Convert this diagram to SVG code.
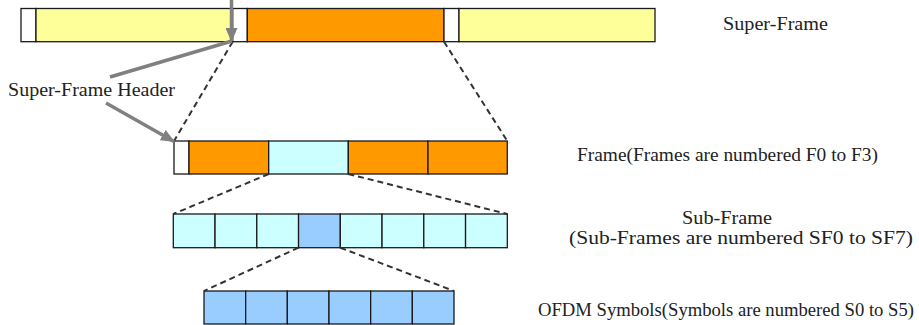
<svg xmlns="http://www.w3.org/2000/svg" width="919" height="325" viewBox="0 0 919 325">
<style>
.c{stroke:#1a1a1a;stroke-width:1.3}
.w{fill:#ffffff}.y{fill:#ffff99}.o{fill:#ff9900}.cy{fill:#ccffff}.b{fill:#99ccff}
.d{stroke:#333333;stroke-width:2;stroke-dasharray:6,4;fill:none}
.g{stroke:#808080;stroke-width:3.5;fill:none}
.t{font-family:'Liberation Serif','Times New Roman','DejaVu Serif',serif;font-size:18px;fill:#222222}
</style>
<defs>
<marker id="ah" markerUnits="userSpaceOnUse" markerWidth="14" markerHeight="12" viewBox="0 0 14 12" refX="13" refY="6" orient="auto">
<path d="M0,0 L14,6 L0,12 z" fill="#808080"/>
</marker>
</defs>
<g id="superframe">
<rect class="c w" x="21" y="8.5" width="15" height="33.2"/>
<rect class="c y" x="36" y="8.5" width="196.7" height="33.2"/>
<rect class="c w" x="232.7" y="8.5" width="14.6" height="33.2"/>
<rect class="c o" x="247.3" y="8.5" width="196.7" height="33.2"/>
<rect class="c w" x="444" y="8.5" width="15" height="33.2"/>
<rect class="c y" x="459" y="8.5" width="196" height="33.2"/>
</g>
<g id="frame">
<rect class="c w" x="174" y="141" width="15" height="33"/>
<rect class="c o" x="189" y="141" width="79.7" height="33"/>
<rect class="c cy" x="268.7" y="141" width="79.6" height="33"/>
<rect class="c o" x="348.3" y="141" width="79.7" height="33"/>
<rect class="c o" x="428" y="141" width="79.3" height="33"/>
</g>
<g id="subframe">
<rect class="c cy" x="173.3" y="214" width="41.75" height="33.7"/>
<rect class="c cy" x="215.05" y="214" width="41.75" height="33.7"/>
<rect class="c cy" x="256.8" y="214" width="41.75" height="33.7"/>
<rect class="c b" x="298.55" y="214" width="41.75" height="33.7"/>
<rect class="c cy" x="340.3" y="214" width="41.75" height="33.7"/>
<rect class="c cy" x="382.05" y="214" width="41.75" height="33.7"/>
<rect class="c cy" x="423.8" y="214" width="41.75" height="33.7"/>
<rect class="c cy" x="465.55" y="214" width="41.75" height="33.7"/>
</g>
<g id="ofdm">
<rect class="c b" x="204" y="291" width="41.67" height="33"/>
<rect class="c b" x="245.67" y="291" width="41.67" height="33"/>
<rect class="c b" x="287.33" y="291" width="41.67" height="33"/>
<rect class="c b" x="329" y="291" width="41.67" height="33"/>
<rect class="c b" x="370.67" y="291" width="41.67" height="33"/>
<rect class="c b" x="412.33" y="291" width="41.67" height="33"/>
</g>
<g id="connectors">
<line class="d" x1="232.7" y1="41.7" x2="174" y2="141"/>
<line class="d" x1="444" y1="41.7" x2="507.3" y2="141"/>
<line class="d" x1="268.7" y1="174" x2="173.3" y2="214"/>
<line class="d" x1="348.3" y1="174" x2="507.3" y2="214"/>
<line class="d" x1="298.5" y1="247.7" x2="204" y2="291"/>
<line class="d" x1="340.3" y1="247.7" x2="454" y2="291"/>
<line class="g" x1="231.5" y1="0" x2="231.5" y2="41" marker-end="url(#ah)"/>
<line class="g" x1="110" y1="77" x2="232" y2="41"/>
<line class="g" x1="106" y1="103" x2="174" y2="141.5" marker-end="url(#ah)"/>
</g>
<g id="labels">
<text class="t" font-family="Liberation Serif, serif" x="723" y="30" textLength="105" lengthAdjust="spacingAndGlyphs">Super-Frame</text>
<text class="t" font-family="Liberation Serif, serif" x="8" y="96" textLength="167" lengthAdjust="spacingAndGlyphs">Super-Frame Header</text>
<text class="t" font-family="Liberation Serif, serif" x="577" y="161" textLength="301" lengthAdjust="spacingAndGlyphs">Frame(Frames are numbered F0 to F3)</text>
<text class="t" font-family="Liberation Serif, serif" x="682" y="224" textLength="90" lengthAdjust="spacingAndGlyphs">Sub-Frame</text>
<text class="t" font-family="Liberation Serif, serif" x="569" y="244" textLength="344" lengthAdjust="spacingAndGlyphs">(Sub-Frames are numbered SF0 to SF7)</text>
<text class="t" font-family="Liberation Serif, serif" x="538" y="316" textLength="376" lengthAdjust="spacingAndGlyphs">OFDM Symbols(Symbols are numbered S0 to S5)</text>
</g>
</svg>
